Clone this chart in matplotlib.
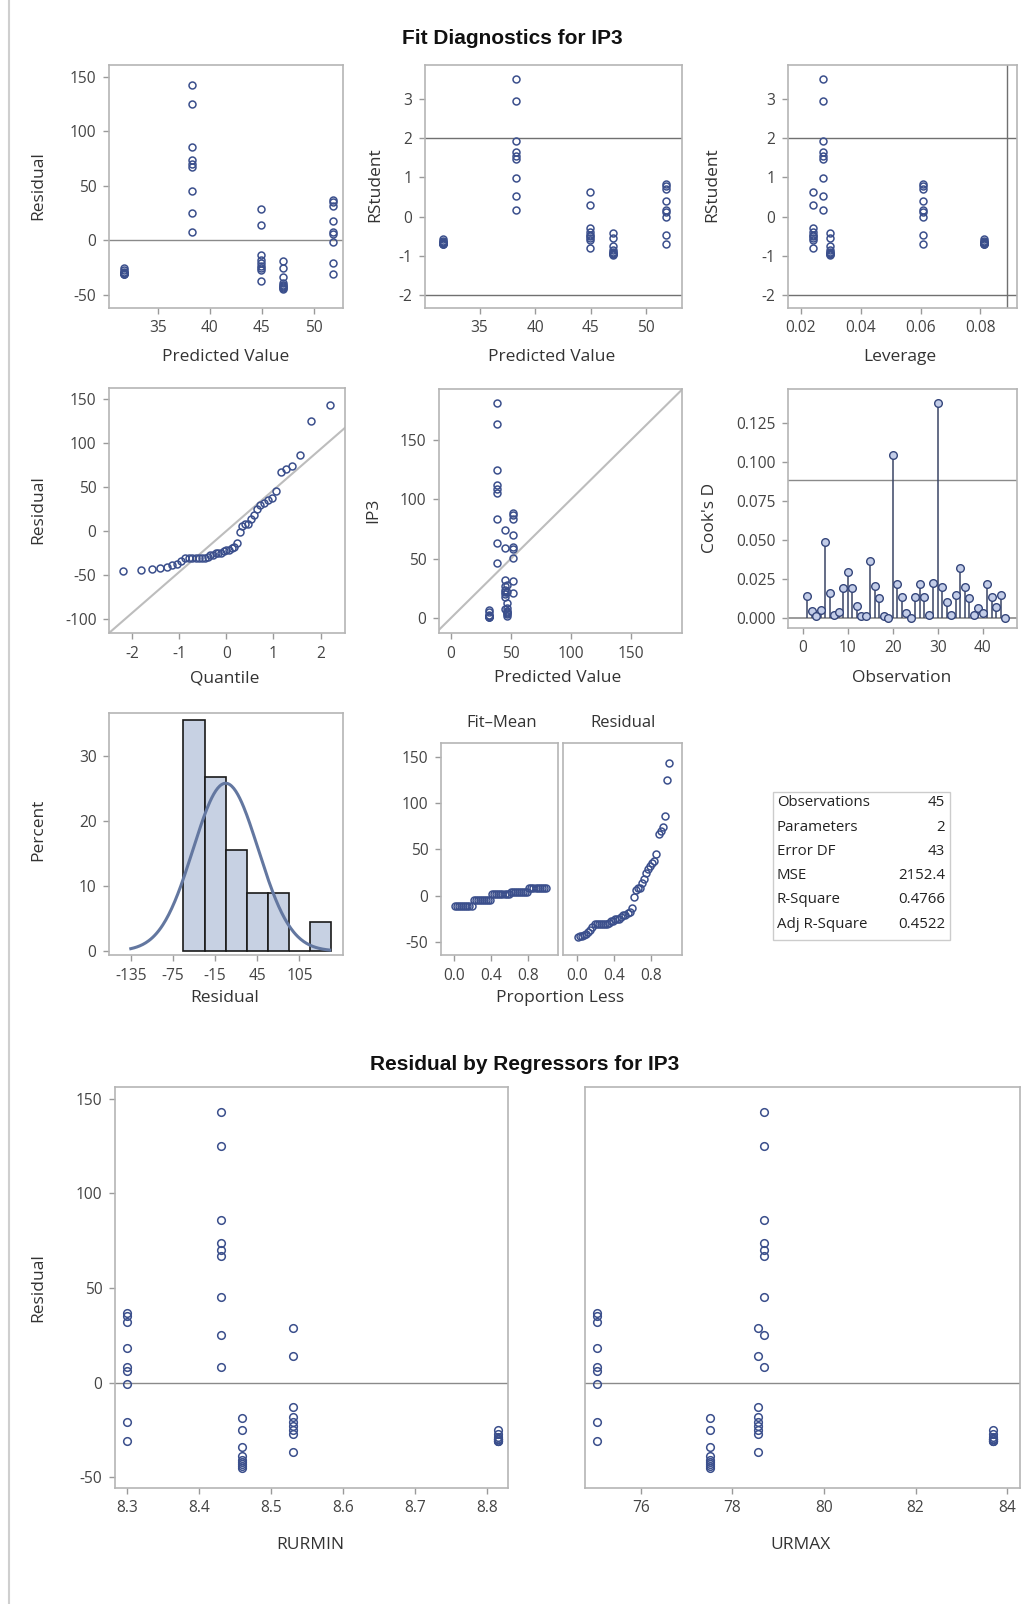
import matplotlib
matplotlib.use("Agg")
import matplotlib.pyplot as plt
from matplotlib.ticker import FormatStrFormatter
from matplotlib.patches import Rectangle
from matplotlib.lines import Line2D
from statistics import NormalDist
import numpy as np

plt.rcParams['font.family'] = ['Open Sans', 'DejaVu Sans']
plt.rcParams['axes.unicode_minus'] = False

W, H = 1024, 1604

# ---- values ----
# each observation belongs to one of five clusters (same fitted value)
obs_site = ["A", "D", "C", "E", "B"] * 9

sites = ["A", "B", "C", "D", "E"]
site_pred = [31.7, 38.3, 44.9, 47.0, 51.8]
site_lev = [0.0813, 0.0273, 0.0240, 0.0297, 0.0607]
site_rurmin = [8.815, 8.43, 8.53, 8.46, 8.30]
site_urmax = [83.7, 78.7, 78.55, 77.5, 75.05]

residual = [-25, -25, 14, 18, 86, -27, -19, 29, 35, 67,
            -29, -34, -13, 8, 74, -30, -41, -18, -1, 125,
            -31, -43, -21, 6, 45, -31, -42, -23, 37, 143,
            -30, -39, -25, -31, 70, -30, -44, -27, -21, 25,
            -31, -45, -37, 32, 8]

rstudent = [-0.56, -0.55, 0.30, 0.40, 1.93, -0.61, -0.41, 0.63, 0.78, 1.48,
            -0.65, -0.74, -0.28, 0.18, 1.65, -0.67, -0.90, -0.39, -0.02, 2.95,
            -0.70, -0.94, -0.46, 0.13, 0.99, -0.70, -0.92, -0.50, 0.83, 3.52,
            -0.67, -0.85, -0.55, -0.69, 1.56, -0.67, -0.96, -0.59, -0.47, 0.54,
            -0.70, -0.99, -0.81, 0.71, 0.17]

cooks_d = [0.0142, 0.0042, 0.0010, 0.0053, 0.0490, 0.0163, 0.0020, 0.0040, 0.0190, 0.0297,
           0.0190, 0.0080, 0.0010, 0.0010, 0.0367, 0.0205, 0.0127, 0.0010, 0.0000, 0.1045,
           0.0216, 0.0133, 0.0030, 0.0000, 0.0133, 0.0216, 0.0133, 0.0020, 0.0227, 0.1380,
           0.0200, 0.0100, 0.0020, 0.0150, 0.0320, 0.0200, 0.0127, 0.0020, 0.0064, 0.0030,
           0.0216, 0.0138, 0.0068, 0.0148, 0.0000]

hist_left = [-60, -30, 0, 30, 60, 90, 120]
hist_pct = [35.6, 26.7, 15.6, 8.9, 8.9, 0.0, 4.4]

stat_names = ["Observations", "Parameters", "Error DF", "MSE", "R-Square", "Adj R-Square"]
stat_values = ["45", "2", "43", "2152.4", "0.4766", "0.4522"]

mse = 2152.4
n_obs = 45
cutoff = 4 / 45

# ---- derived per-observation values ----
idx = [sites.index(s) for s in obs_site]
pred = np.array([site_pred[i] for i in idx])
lev = np.array([site_lev[i] for i in idx])
rurmin = np.array([site_rurmin[i] for i in idx])
urmax = np.array([site_urmax[i] for i in idx])
res = np.array(residual, dtype=float)
observed = pred + res
obs_no = np.arange(1, n_obs + 1)
rmse = np.sqrt(mse)

MK = '#3b4f8c'
SPINE = '#b5b5b5'
REF = '#8a8a8a'
DIAG = '#bdbdbd'

fig = plt.figure(figsize=(W / 100, H / 100), dpi=100)


def box(l, t, r, b):
    return [l / W, 1 - b / H, (r - l) / W, (b - t) / H]


def ftext(x, y, s, **kw):
    kw.setdefault('ha', 'center')
    kw.setdefault('va', 'center')
    kw.setdefault('fontsize', 12.5)
    kw.setdefault('color', '#333333')
    fig.text(x / W, 1 - y / H, s, **kw)


def style(ax, yticks=True):
    for sp in ax.spines.values():
        sp.set_color(SPINE)
        sp.set_linewidth(1.2)
    ax.tick_params(length=4, width=1, color='#9a9a9a', labelsize=11.2,
                   labelcolor='#444444', pad=5)
    if not yticks:
        ax.tick_params(axis='y', left=False, labelleft=False)


def dots(ax, x, y, ms=5):
    ax.plot(x, y, 'o', ms=ms, mfc='none', mec=MK, mew=1.1, zorder=3)


# title
ftext(512, 38, "Fit Diagnostics for IP3", fontsize=15, fontweight='bold',
      color='#111111', family=['Liberation Sans', 'DejaVu Sans'])

# 1. residual vs predicted
ax = fig.add_axes(box(109, 65, 343, 308))
style(ax)
ax.axhline(0, color=REF, lw=1)
dots(ax, pred, res)
ax.set_xlim(30.3, 52.8)
ax.set_ylim(-62, 161)
ax.set_xticks([35, 40, 45, 50])
ax.set_yticks([-50, 0, 50, 100, 150])
ftext(38, 186, "Residual", rotation=90)
ftext(226, 357, "Predicted Value")

# 2. rstudent vs predicted
ax = fig.add_axes(box(425, 65, 682, 308))
style(ax)
ax.axhline(2, color='#707070', lw=1)
ax.axhline(-2, color='#707070', lw=1)
dots(ax, pred, rstudent)
ax.set_xlim(30.1, 53.2)
ax.set_ylim(-2.33, 3.87)
ax.set_xticks([35, 40, 45, 50])
ax.set_yticks([-2, -1, 0, 1, 2, 3])
ftext(375, 185, "RStudent", rotation=90)
ftext(552, 357, "Predicted Value")

# 3. rstudent vs leverage
ax = fig.add_axes(box(788, 65, 1017, 308))
style(ax)
ax.axhline(2, color='#707070', lw=1)
ax.axhline(-2, color='#707070', lw=1)
ax.axvline(cutoff, color='#707070', lw=1)
dots(ax, lev, rstudent)
ax.set_xlim(0.0157, 0.0922)
ax.set_ylim(-2.33, 3.87)
ax.set_xticks([0.02, 0.04, 0.06, 0.08])
ax.xaxis.set_major_formatter(FormatStrFormatter('%.2f'))
ax.set_yticks([-2, -1, 0, 1, 2, 3])
ftext(712, 185, "RStudent", rotation=90)
ftext(900, 357, "Leverage")

# 4. normal quantile plot
ax = fig.add_axes(box(109, 388, 345, 633))
style(ax)
srt = np.sort(res)
blom = [(i - 0.375) / (n_obs + 0.25) for i in range(1, n_obs + 1)]
quant = np.array([NormalDist().inv_cdf(p) for p in blom])
ax.axline((0, 0), slope=rmse, color=DIAG, lw=1.5)
dots(ax, quant, srt)
ax.set_xlim(-2.49, 2.52)
ax.set_ylim(-115.5, 162)
ax.set_xticks([-2, -1, 0, 1, 2])
ax.set_yticks([-100, -50, 0, 50, 100, 150])
ftext(38, 510, "Residual", rotation=90)
ftext(225, 678, "Quantile")

# 5. observed vs predicted
ax = fig.add_axes(box(439, 389, 682, 633))
style(ax)
ax.axline((0, 0), (1, 1), color=DIAG, lw=1.5)
dots(ax, pred, observed)
ax.set_xlim(-10, 192.5)
ax.set_ylim(-12.7, 193)
ax.set_xticks([0, 50, 100, 150])
ax.set_yticks([0, 50, 100, 150])
ftext(373, 510, "IP3", rotation=90)
ftext(558, 678, "Predicted Value")

# 6. cook's d
ax = fig.add_axes(box(788, 389, 1017, 628))
style(ax)
ax.axhline(0, color=REF, lw=1.2)
ax.axhline(cutoff, color=REF, lw=1)
ax.vlines(obs_no, 0, cooks_d, color='#3a4566', lw=1.1, zorder=2)
ax.plot(obs_no, cooks_d, 'o', ms=5.5, mfc='#c3cde8', mec='#34457a', mew=1.0, zorder=3)
ax.set_xlim(-3.3, 47.6)
ax.set_ylim(-0.0064, 0.147)
ax.set_xticks([0, 10, 20, 30, 40])
ax.set_yticks([0, 0.025, 0.05, 0.075, 0.1, 0.125])
ax.yaxis.set_major_formatter(FormatStrFormatter('%.3f'))
ftext(710, 518, "Cook's D", rotation=90)
ftext(902, 678, "Observation")

# 7. histogram of residuals
ax = fig.add_axes(box(109, 713, 343, 955))
style(ax)
ax.bar(hist_left, hist_pct, width=30, align='edge', color='#c7d1e3',
       edgecolor='#1a1a1a', lw=1.2, zorder=2)
xs = np.linspace(-135, 148, 200)
nd = NormalDist(0, rmse)
ax.plot(xs, [100 * 30 * nd.pdf(v) for v in xs], color='#6377a0', lw=2.2, zorder=3)
ax.set_xlim(-166, 167)
ax.set_ylim(-0.6, 36.6)
ax.set_xticks([-135, -75, -15, 45, 105])
ax.set_yticks([0, 10, 20, 30])
ftext(38, 830, "Percent", rotation=90)
ftext(225, 998, "Residual")

# 8. residual-fit spread
prop = (np.arange(1, n_obs + 1) - 0.5) / n_obs
fit_mean = np.sort(pred - observed.mean())
axa = fig.add_axes(box(441, 743, 558, 955))
style(axa)
dots(axa, prop, fit_mean)
axa.set_xlim(-0.14, 1.12)
axa.set_ylim(-64, 165)
axa.set_xticks([0.0, 0.4, 0.8])
axa.xaxis.set_major_formatter(FormatStrFormatter('%.1f'))
axa.set_yticks([-50, 0, 50, 100, 150])
axb = fig.add_axes(box(563, 743, 682, 955))
style(axb, yticks=False)
dots(axb, prop, srt)
axb.set_xlim(-0.15, 1.13)
axb.set_ylim(-64, 165)
axb.set_xticks([0.0, 0.4, 0.8])
axb.xaxis.set_major_formatter(FormatStrFormatter('%.1f'))
ftext(502, 723, "Fit\u2013Mean", fontsize=12)
ftext(623, 723, "Residual", fontsize=12)
ftext(560, 998, "Proportion Less")

# 9. fit statistics table
fig.add_artist(Rectangle((773 / W, 1 - 940 / H), 177 / W, 148 / H,
                         transform=fig.transFigure, fill=False,
                         edgecolor='#cccccc', lw=1))
for k, (nm, val) in enumerate(zip(stat_names, stat_values)):
    yy = 803 + k * 24.2
    ftext(777, yy, nm, ha='left', fontsize=10.8, color='#222222')
    ftext(945, yy, val, ha='right', fontsize=10.8, color='#222222')

# ---- residual by regressors ----
ftext(525, 1065, "Residual by Regressors for IP3", fontsize=15, fontweight='bold',
      color='#111111', family=['Liberation Sans', 'DejaVu Sans'])

ax = fig.add_axes(box(115, 1087, 508, 1488))
style(ax)
ax.axhline(0, color=REF, lw=1)
dots(ax, rurmin, res, ms=5.5)
ax.set_xlim(8.283, 8.829)
ax.set_ylim(-55.8, 156.3)
ax.set_xticks([8.3, 8.4, 8.5, 8.6, 8.7, 8.8])
ax.xaxis.set_major_formatter(FormatStrFormatter('%.1f'))
ax.set_yticks([-50, 0, 50, 100, 150])
ftext(38, 1288, "Residual", rotation=90)
ftext(310, 1545, "RURMIN")

ax = fig.add_axes(box(585, 1087, 1020, 1488))
style(ax, yticks=False)
ax.axhline(0, color=REF, lw=1)
dots(ax, urmax, res, ms=5.5)
ax.set_xlim(74.78, 84.28)
ax.set_ylim(-55.8, 156.3)
ax.set_xticks([76, 78, 80, 82, 84])
ftext(800, 1545, "URMAX")

# left frame line of the output page
fig.add_artist(Line2D([9 / W, 9 / W], [0, 1], transform=fig.transFigure,
                      color='#cfcfcf', lw=1.5))

fig.savefig("out.png", dpi=100)
